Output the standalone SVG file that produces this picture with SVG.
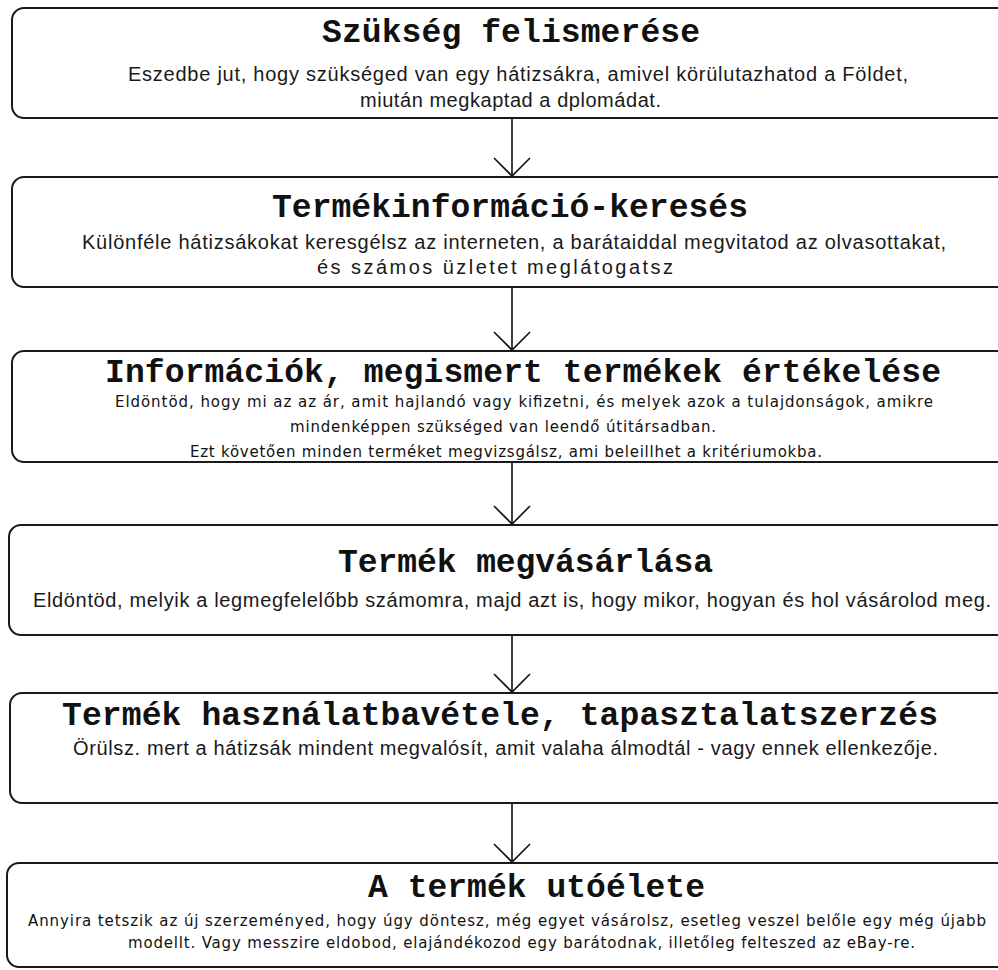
<svg xmlns="http://www.w3.org/2000/svg" width="998" height="970" viewBox="0 0 998 970">
<style>
.box{fill:#fff;stroke:#1a1a1a;stroke-width:2}
.t{font-family:"Liberation Mono","Courier New",monospace;font-weight:bold;font-size:33px;fill:#111}
.b{font-family:"Liberation Sans",Arial,sans-serif;font-size:20px;fill:#1a1a1a}
.p{font-family:"DejaVu Sans",Verdana,sans-serif;font-size:15px;fill:#111}
.c{stroke:#111;stroke-width:1.6;fill:none}
</style>
<defs>
<marker id="ah" markerUnits="userSpaceOnUse" viewBox="-1 -1 21 38" refX="18" refY="18" markerWidth="21" markerHeight="38" orient="auto">
<path d="M0,0 L18,18 L0,36" fill="none" stroke="#111" stroke-width="1.6"/>
</marker>
</defs>
<rect width="998" height="970" fill="#fff"/>
<g id="connectors">
<line class="c" x1="512" y1="118" x2="512" y2="176" marker-end="url(#ah)"/>
<line class="c" x1="512" y1="287" x2="512" y2="350" marker-end="url(#ah)"/>
<line class="c" x1="512" y1="462" x2="512" y2="524" marker-end="url(#ah)"/>
<line class="c" x1="512" y1="635" x2="512" y2="692" marker-end="url(#ah)"/>
<line class="c" x1="512" y1="803" x2="512" y2="862" marker-end="url(#ah)"/>
</g>
<g id="n1">
<rect class="box" x="12" y="8" width="1000" height="110" rx="12"/>
<text class="t" x="322" y="42" textLength="378">Szükség felismerése</text>
<text class="b" x="128" y="81" textLength="780">Eszedbe jut, hogy szükséged van egy hátizsákra, amivel körülutazhatod a Földet,</text>
<text class="b" x="360" y="107" textLength="301">miután megkaptad a dplomádat.</text>
</g>
<g id="n2">
<rect class="box" x="12" y="177" width="1000" height="110" rx="12"/>
<text class="t" x="272" y="217" textLength="476">Termékinformáció-keresés</text>
<text class="b" x="82" y="249" textLength="864">Különféle hátizsákokat keresgélsz az interneten, a barátaiddal megvitatod az olvasottakat,</text>
<text class="b" x="317" y="274" textLength="356">és számos üzletet meglátogatsz</text>
</g>
<g id="n3">
<rect class="box" x="12" y="351" width="1000" height="111" rx="12"/>
<text class="t" x="105" y="382" textLength="836">Információk, megismert termékek értékelése</text>
<text class="p" x="115" y="407" textLength="818">Eldöntöd, hogy mi az az ár, amit hajlandó vagy kifizetni, és melyek azok a tulajdonságok, amikre</text>
<text class="p" x="290" y="432" textLength="426">mindenképpen szükséged van leendő útitársadban.</text>
<text class="p" x="190" y="457" textLength="632">Ezt követően minden terméket megvizsgálsz, ami beleillhet a kritériumokba.</text>
</g>
<g id="n4">
<rect class="box" x="9" y="525" width="1000" height="110" rx="12"/>
<text class="t" x="338" y="572" textLength="375">Termék megvásárlása</text>
<text class="b" x="33" y="607" textLength="958">Eldöntöd, melyik a legmegfelelőbb számomra, majd azt is, hogy mikor, hogyan és hol vásárolod meg.</text>
</g>
<g id="n5">
<rect class="box" x="10" y="693" width="1000" height="110" rx="12"/>
<text class="t" x="62" y="725" textLength="876">Termék használatbavétele, tapasztalatszerzés</text>
<text class="b" x="73" y="755" textLength="865">Örülsz. mert a hátizsák mindent megvalósít, amit valaha álmodtál - vagy ennek ellenkezője.</text>
</g>
<g id="n6">
<rect class="box" x="7" y="863" width="1002" height="104" rx="12"/>
<text class="t" x="368" y="897" textLength="337">A termék utóélete</text>
<text class="p" x="28" y="926" textLength="958">Annyira tetszik az új szerzeményed, hogy úgy döntesz, még egyet vásárolsz, esetleg veszel belőle egy még újabb</text>
<text class="p" x="128" y="948" textLength="787">modellt. Vagy messzire eldobod, elajándékozod egy barátodnak, illetőleg felteszed az eBay-re.</text>
</g>
</svg>
